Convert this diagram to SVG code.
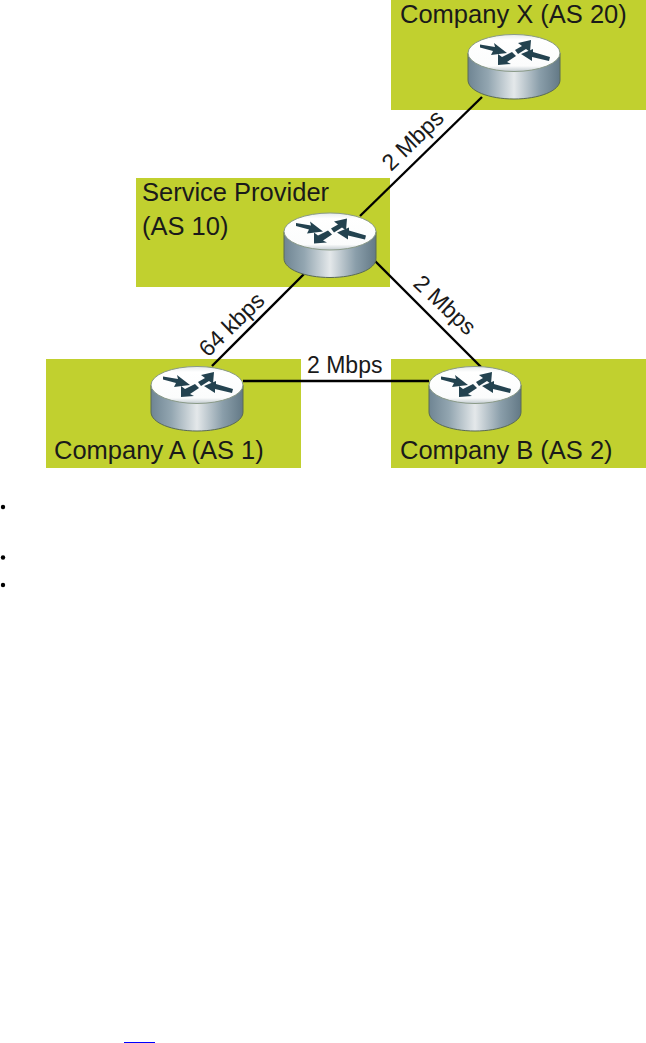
<svg xmlns="http://www.w3.org/2000/svg" width="646" height="1043" viewBox="0 0 646 1043">
<style>
.zone{fill:#c1d02f}
.lbl{font-family:"Liberation Sans",Arial,sans-serif;font-size:25.500px;fill:#1a1a1a}
.spd{font-family:"Liberation Sans",Arial,sans-serif;font-size:23px;fill:#1a1a1a}
.link{stroke:#000;stroke-width:2.4;fill:none}
.arr{fill:#23424f}
</style>
<defs>
<linearGradient id="side" x1="0" x2="1" y1="0" y2="0">
<stop offset="0" stop-color="#6f8593"/><stop offset=".22" stop-color="#93a6b1"/><stop offset=".5" stop-color="#e4e8ea"/><stop offset=".78" stop-color="#8a9eaa"/><stop offset="1" stop-color="#637986"/>
</linearGradient>
<linearGradient id="top" x1="0" x2="0" y1="0" y2="1">
<stop offset="0" stop-color="#e6eaec"/><stop offset=".15" stop-color="#fff"/><stop offset=".85" stop-color="#fbfcfc"/><stop offset="1" stop-color="#c2cbd0"/>
</linearGradient>
<g id="router">
<path d="M-46 0V27C-46 38 -25 46 0 46S46 38 46 27V0Z" fill="url(#side)" stroke="#5a6a55" stroke-width="1"/>
<ellipse cx="0" cy="0" rx="46" ry="18.500" fill="url(#top)" stroke="#8a9a88" stroke-width="1"/>
<path class="arr" d="M-34 -8.500L-19 -6L-20 -10L-7 0L-23 2L-21 -2L-34 -5.500Z"/>
<path class="arr" d="M1 -3L8 -7L4 -10L17 -13L16 -1L12 -4L4 1Z"/>
<path class="arr" d="M7 1L19 -4L19 -1L36 4L35 8L18 4L18 8Z"/>
<path class="arr" d="M-16 12L-16 1L-12 4L-2 -1L2 3L-7 9L-3 11Z"/>
</g>
</defs>
<rect width="646" height="1043" fill="#fff"/>
<g id="zones">
<rect class="zone" x="391" y="0" width="255" height="110"/>
<rect class="zone" x="136" y="178" width="254" height="109"/>
<rect class="zone" x="46" y="359" width="255" height="109"/>
<rect class="zone" x="391" y="359" width="255" height="109"/>
</g>
<g id="connectors">
<line class="link" x1="482" y1="97" x2="360" y2="216"/>
<line class="link" x1="304" y1="274" x2="212" y2="366"/>
<line class="link" x1="375" y1="261" x2="481" y2="367"/>
<line class="link" x1="243" y1="381" x2="429" y2="381"/>
</g>
<g id="company-x"><use href="#router" x="514" y="53"/><text class="lbl" x="400" y="23">Company X (AS 20)</text></g>
<g id="service-provider"><use href="#router" x="330" y="231.500"/><text class="lbl" x="142" y="201">Service Provider</text><text class="lbl" x="142" y="235">(AS 10)</text></g>
<g id="company-a"><use href="#router" x="197" y="385"/><text class="lbl" x="54" y="459">Company A (AS 1)</text></g>
<g id="company-b"><use href="#router" x="475" y="385"/><text class="lbl" x="400" y="459">Company B (AS 2)</text></g>
<g id="link-labels">
<text class="spd" transform="translate(391 172) rotate(-44)">2 Mbps</text>
<text class="spd" transform="translate(208 358) rotate(-44)">64 kbps</text>
<text class="spd" transform="translate(412 285) rotate(43)">2 Mbps</text>
<text class="spd" x="307" y="373">2 Mbps</text>
</g>
<g id="bullets" fill="#000">
<circle cx="3" cy="507" r="2.2"/><circle cx="3" cy="557.500" r="2.2"/><circle cx="3" cy="585" r="2.200"/>
</g>
<rect x="124" y="1042" width="31" height="1" fill="#00f"/>
</svg>
